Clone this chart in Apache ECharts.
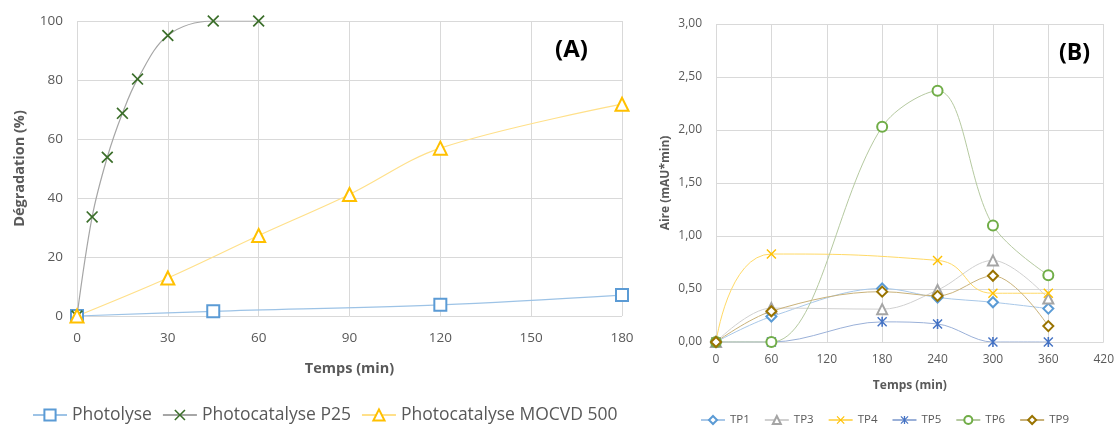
<!DOCTYPE html>
<html><head><meta charset="utf-8">
<script src="https://cdn.jsdelivr.net/npm/echarts@6/dist/echarts.min.js"></script>
<style>html,body{margin:0;padding:0;background:#fff}#c{width:1117px;height:426px}</style>
</head><body><div id="c"></div>
<script>
// ---- Chart A data ----
const timePhotolyse = [0, 45, 120, 180];
const valPhotolyse = [0, 1.6, 3.8, 7.1];
const timeP25 = [0, 5, 10, 15, 20, 30, 45, 60];
const valP25 = [0, 33.6, 53.8, 68.7, 80.3, 95.1, 100, 100];
const timeMOCVD = [0, 30, 60, 90, 120, 180];
const valMOCVD = [0, 12.9, 27.3, 41.2, 56.9, 71.8];
const namesA = ['Photolyse', 'Photocatalyse P25', 'Photocatalyse MOCVD 500'];
// ---- Chart B data ----
const timeB = [0, 60, 180, 240, 300, 360];
const timeTP4 = [0, 60, 240, 300, 360];
const valTP1 = [0, 0.24, 0.505, 0.42, 0.375, 0.315];
const valTP3 = [0, 0.32, 0.31, 0.49, 0.77, 0.41];
const valTP4 = [0, 0.83, 0.77, 0.46, 0.46];
const valTP5 = [0, 0, 0.19, 0.17, 0, 0];
const valTP6 = [0, 0, 2.03, 2.37, 1.10, 0.63];
const valTP9 = [0, 0.29, 0.475, 0.435, 0.625, 0.15];
const namesB = ['TP1', 'TP3', 'TP4', 'TP5', 'TP6', 'TP9'];

const zip = (xs, ys) => xs.map((x, i) => [x, ys[i]]);
const XPATH = 'path://M1,0L5,4L9,0L10,1L6,5L10,9L9,10L5,6L1,10L0,9L4,5L0,1Z';
const STAR = 'path://M1,0L5,4L9,0L10,1L6,5L10,9L9,10L5,6L1,10L0,9L4,5L0,1Z M4.2,0L5.8,0L5.8,10L4.2,10Z';
const gray = '#595959';
const gridCol = '#D9D9D9';

function ser(name, data, xi, sym, size, mc, lc, filled, lw, smooth) {
  return {
    name: name, type: 'line', xAxisIndex: xi, yAxisIndex: xi, data: data,
    smooth: smooth === undefined ? 0.35 : smooth, symbol: sym, symbolSize: size, showSymbol: true,
    lineStyle: { color: lc, width: lw || 1.2 },
    itemStyle: filled ? { color: mc } : { color: mc, borderColor: mc, borderWidth: 2 },
    emphasis: { disabled: true }, z: 3
  };
}

const chart = echarts.init(document.getElementById('c'), null, { renderer: 'canvas' });
chart.setOption({
  animation: false,
  backgroundColor: '#fff',
  textStyle: { fontFamily: 'Open Sans, Noto Sans, sans-serif' },
  grid: [
    { left: 77, right: 495, top: 21, bottom: 110 },
    { left: 716, right: 13, top: 24, bottom: 84 }
  ],
  xAxis: [
    { gridIndex: 0, type: 'value', min: 0, max: 180, interval: 30,
      name: 'Temps (min)', nameLocation: 'middle', nameGap: 45,
      nameTextStyle: { fontWeight: 'bold', fontSize: 14.5, color: gray },
      axisLine: { show: false }, axisTick: { show: false },
      axisLabel: { color: gray, fontSize: 13.5, margin: 15 },
      splitLine: { lineStyle: { color: gridCol } } },
    { gridIndex: 1, type: 'value', min: 0, max: 420, interval: 60,
      name: 'Temps (min)', nameLocation: 'middle', nameGap: 38,
      nameTextStyle: { fontWeight: 'bold', fontSize: 12, color: gray },
      axisLine: { show: false }, axisTick: { show: false },
      axisLabel: { color: gray, fontSize: 12, margin: 12 },
      splitLine: { lineStyle: { color: gridCol } } }
  ],
  yAxis: [
    { gridIndex: 0, type: 'value', min: 0, max: 100, interval: 20,
      name: 'Dégradation (%)', nameLocation: 'middle', nameGap: 50,
      nameTextStyle: { fontWeight: 'bold', fontSize: 14.5, color: gray },
      axisLine: { show: false }, axisTick: { show: false },
      axisLabel: { color: gray, fontSize: 13.5, margin: 14 },
      splitLine: { lineStyle: { color: gridCol } } },
    { gridIndex: 1, type: 'value', min: 0, max: 3, interval: 0.5,
      name: 'Aire (mAU*min)', nameLocation: 'middle', nameGap: 44,
      nameTextStyle: { fontWeight: 'bold', fontSize: 12, color: gray },
      axisLine: { show: false }, axisTick: { show: false },
      axisLabel: { color: gray, fontSize: 12, margin: 14,
        formatter: v => v.toFixed(2).replace('.', ',') },
      splitLine: { lineStyle: { color: gridCol } } }
  ],
  legend: [
    { data: namesA, left: 27, top: 401, itemWidth: 34, itemHeight: 14, itemGap: 10,
      textStyle: { color: gray, fontSize: 17.5 } },
    { data: namesB, left: 700, top: 414, width: 417, padding: 0, itemWidth: 24, itemHeight: 10, itemGap: 14,
      textStyle: { color: gray, fontSize: 11.5 } }
  ],
  graphic: [
    { type: 'text', left: 555, top: 38, style: { text: '(A)', font: 'bold 24px "Open Sans", sans-serif', fill: '#000' } },
    { type: 'text', left: 1059, top: 42, style: { text: '(B)', font: 'bold 23px "Open Sans", sans-serif', fill: '#000' } }
  ],
  series: [
    ser(namesA[0], zip(timePhotolyse, valPhotolyse), 0, 'emptyRect', 12, '#5B9BD5', '#9DC3E6'),
    ser(namesA[1], zip(timeP25, valP25), 0, XPATH, 12, '#3B6E2A', '#A6A6A6', true),
    ser(namesA[2], zip(timeMOCVD, valMOCVD), 0, 'emptyTriangle', 13, '#FFC000', '#FFE08A'),
    ser(namesB[0], zip(timeB, valTP1), 1, 'emptyDiamond', 10, '#5B9BD5', '#A9C8E8', false, 1),
    ser(namesB[1], zip(timeB, valTP3), 1, 'emptyTriangle', 10, '#A5A5A5', '#D0D0D0', false, 1),
    ser(namesB[2], zip(timeTP4, valTP4), 1, XPATH, 10, '#FFC000', '#FFD966', true, 1, 0.5),
    ser(namesB[3], zip(timeB, valTP5), 1, STAR, 10, '#4472C4', '#9AB0D8', true, 1),
    ser(namesB[4], zip(timeB, valTP6), 1, 'emptyCircle', 10, '#70AD47', '#B5C9A0', false, 1),
    ser(namesB[5], zip(timeB, valTP9), 1, 'emptyDiamond', 10, '#997300', '#C9B27A', false, 1)
  ]
});
</script></body></html>
